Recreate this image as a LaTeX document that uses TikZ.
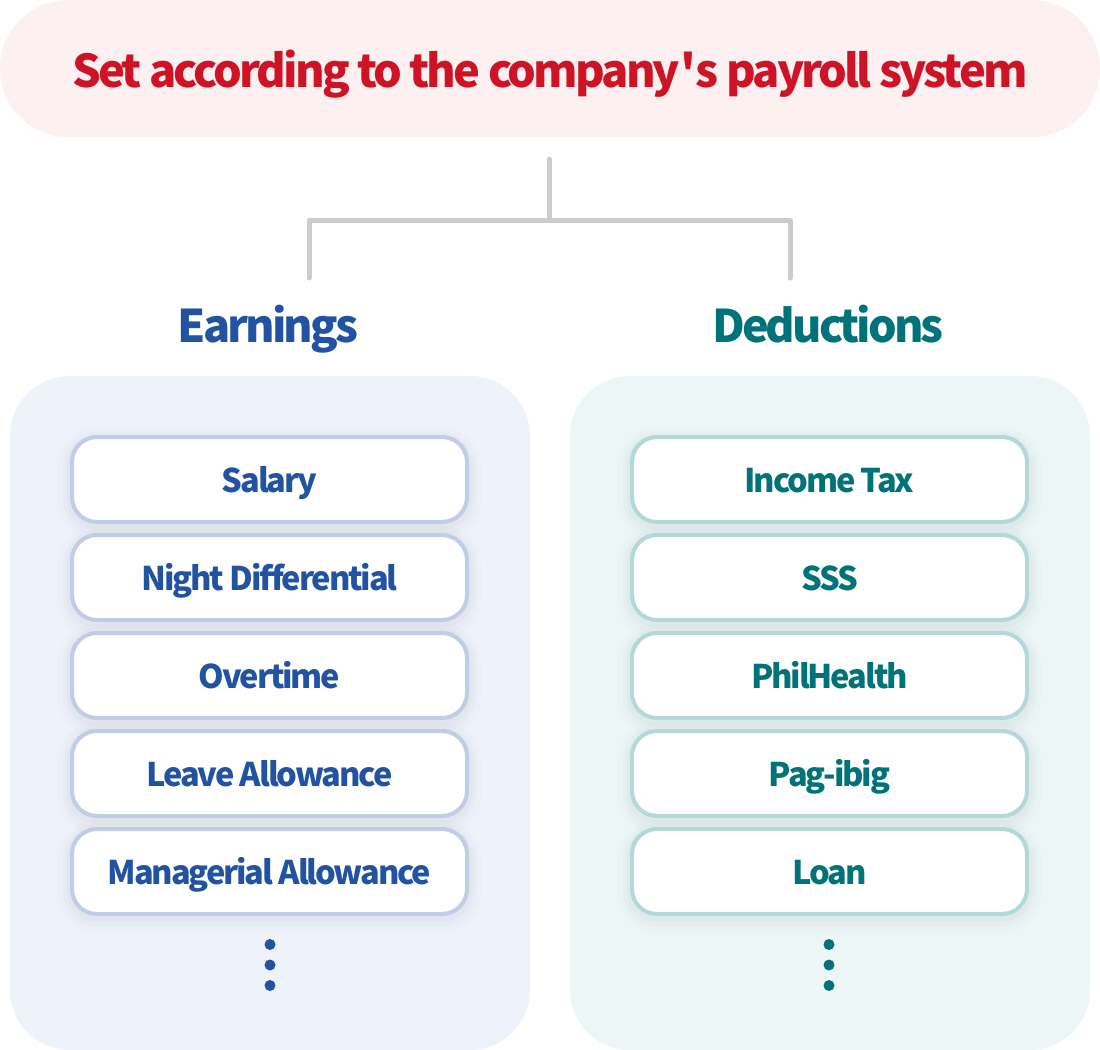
\documentclass[tikz,border=0pt]{standalone}
\usepackage{fontspec}
\setmainfont{Noto Sans CJK KR}[LetterSpace=-6.5]
\usepackage{tikz}
\usetikzlibrary{positioning}

\definecolor{titlered}{HTML}{CF1327}
\definecolor{titlefill}{HTML}{FCF0F1}
\definecolor{earnblue}{HTML}{2253A3}
\definecolor{earnfill}{HTML}{EEF2FA}
\definecolor{earnline}{HTML}{BFCDE6}
\definecolor{dedteal}{HTML}{00737A}
\definecolor{dedfill}{HTML}{EDF6F7}
\definecolor{dedline}{HTML}{B2D8DA}
\definecolor{linkgray}{HTML}{CCCCCC}

\begin{document}
\begin{tikzpicture}[
x=0.5pt, y=-0.5pt,
titlepill/.style={
  fill=titlefill,
  rounded corners=34pt,
  minimum width=550pt,
  minimum height=68.5pt,
  text=titlered,
  text height=18.5pt,
  text depth=0pt,
  font=\bfseries\fontsize{22.6}{27}\selectfont
  },
heading/.style={
  text height=17pt,
  text depth=0pt,
  font=\bfseries\fontsize{22.5}{27}\selectfont
  },
panel/.style={
  rounded corners=30pt,
  minimum width=260pt,
  minimum height=337pt
  },
itembox/.style={
  draw=#1,
  line width=2pt,
  fill=white,
  rounded corners=12.5pt,
  minimum width=197.5pt,
  minimum height=42.5pt,
  text height=12.5pt,
  text depth=0pt,
  font=\bfseries\fontsize{16.3}{20}\selectfont,
  preaction={draw=black!60, line width=14pt, opacity=0.02, transform canvas={yshift=-2.5pt}},
  preaction={draw=black!60, line width=9pt, opacity=0.025, transform canvas={yshift=-2pt}},
  preaction={draw=black!60, line width=5pt, opacity=0.03, transform canvas={yshift=-1.5pt}}
  },
connector/.style={
  draw=linkgray,
  line width=2.5pt,
  line cap=round,
  line join=round
  },
moredot/.style={
  circle,
  fill=#1,
  inner sep=0pt,
  minimum size=5.5pt
  }
]
\useasboundingbox (0,0) rectangle (1100,1050);

% title
\node[titlepill] (title) at (550,68.5) {Set according to the company\textquotesingle s payroll system};

% tree lines
\coordinate (fork) at (549,159);
\coordinate (hub) at (549,220);
\coordinate (earntop) at (309,278);
\coordinate (dedtop) at (790,278);
\draw[connector] (fork) -- (hub);
\draw[connector] (earntop) |- (hub) -| (dedtop);

% headings
\node[heading, text=earnblue] (earnings) at (268,325) {Earnings};
\node[heading, text=dedteal] (deductions) at (828,325) {Deductions};

% panels
\node[panel, fill=earnfill] (earnpanel) at (270,713) {};
\node[panel, fill=dedfill] (dedpanel) at (830,713) {};

% items
\foreach \Text [count=\i] in {Salary,Night Differential,Overtime,Leave Allowance,Managerial Allowance}
  \node[itembox=earnline, text=earnblue] (earn\i) at (269.5,381.5+98*\i) {\Text};
\foreach \Text [count=\i] in {Income Tax,SSS,PhilHealth,Pag-ibig,Loan}
  \node[itembox=dedline, text=dedteal] (ded\i) at (829.5,381.5+98*\i) {\Text};

% more
\foreach \Value in {1,2,3} {
  \node[moredot=earnblue] (earndot\Value) at (270,924+20.5*\Value) {};
  \node[moredot=dedteal] (deddot\Value) at (829,924+20.5*\Value) {};
}
\end{tikzpicture}
\end{document}
